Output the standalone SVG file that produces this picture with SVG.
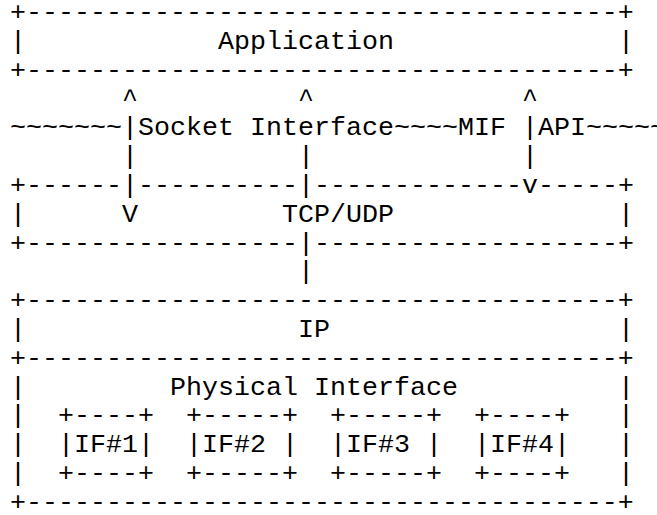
<svg xmlns="http://www.w3.org/2000/svg" width="657" height="515" viewBox="0 0 657 515">
  <style>
    text { font-family: "Liberation Mono", "Courier New", monospace; font-size: 26.667px; fill: #000; white-space: pre; }
  </style>
  <rect width="657" height="515" fill="#fff"/>

  <!-- Application box -->
  <g id="application">
    <text x="10" y="20.2">+-------------------------------------+</text>
    <text x="10" y="49">|</text>
    <text x="218" y="49">Application</text>
    <text x="618" y="49">|</text>
    <text x="10" y="77.8">+-------------------------------------+</text>
  </g>

  <!-- Socket / MIF API boundary line -->
  <g id="socket-api">
    <text x="10" y="135.4">~~~~~~~</text>
    <text x="138" y="135.4" xml:space="preserve">Socket Interface~~~~MIF </text>
    <text x="538" y="135.4">API~~~~~</text>
  </g>

  <!-- TCP/UDP box -->
  <g id="tcp-udp">
    <text x="10" y="193">+------</text>
    <text x="138" y="193">----------</text>
    <text x="314" y="193">-------------</text>
    <text x="538" y="193">-----+</text>
    <text x="10" y="221.8">|</text>
    <text x="282" y="221.8">TCP/UDP</text>
    <text x="618" y="221.8">|</text>
    <text x="10" y="250.6">+-----------------</text>
    <text x="314" y="250.6">-------------------+</text>
  </g>

  <!-- IP box -->
  <g id="ip">
    <text x="10" y="308.2">+-------------------------------------+</text>
    <text x="10" y="337">|</text>
    <text x="298" y="337">IP</text>
    <text x="618" y="337">|</text>
    <text x="10" y="365.8">+-------------------------------------+</text>
  </g>

  <!-- Physical interface box -->
  <g id="physical">
    <text x="10" y="394.6">|</text>
    <text x="170" y="394.6">Physical Interface</text>
    <text x="618" y="394.6">|</text>
    <text x="10" y="423.4">|</text>
    <text x="618" y="423.4">|</text>
    <text x="10" y="452.2">|</text>
    <text x="618" y="452.2">|</text>
    <text x="10" y="481">|</text>
    <text x="618" y="481">|</text>
    <text x="10" y="509.8">+-------------------------------------+</text>
  </g>

  <g id="if1">
    <text x="58" y="423.4">+----+</text>
    <text x="58" y="452.2">|IF#1|</text>
    <text x="58" y="481">+----+</text>
  </g>
  <g id="if2">
    <text x="186" y="423.4">+-----+</text>
    <text x="186" y="452.2" xml:space="preserve">|IF#2 |</text>
    <text x="186" y="481">+-----+</text>
  </g>
  <g id="if3">
    <text x="330" y="423.4">+-----+</text>
    <text x="330" y="452.2" xml:space="preserve">|IF#3 |</text>
    <text x="330" y="481">+-----+</text>
  </g>
  <g id="if4">
    <text x="474" y="423.4">+----+</text>
    <text x="474" y="452.2">|IF#4|</text>
    <text x="474" y="481">+----+</text>
  </g>

  <!-- Connectors: Application <-> Socket/TCP, MIF API -> TCP, TCP -> IP -->
  <g id="connectors">
    <text x="122" y="106.6">^</text>
    <text x="298" y="106.6">^</text>
    <text x="522" y="106.6">^</text>
    <text x="122" y="135.4">|</text>
    <text x="522" y="135.4">|</text>
    <text x="122" y="164.2">|</text>
    <text x="298" y="164.2">|</text>
    <text x="522" y="164.2">|</text>
    <text x="122" y="193">|</text>
    <text x="298" y="193">|</text>
    <text x="522" y="193">v</text>
    <text x="122" y="221.8">V</text>
    <text x="298" y="250.6">|</text>
    <text x="298" y="279.4">|</text>
  </g>
</svg>
